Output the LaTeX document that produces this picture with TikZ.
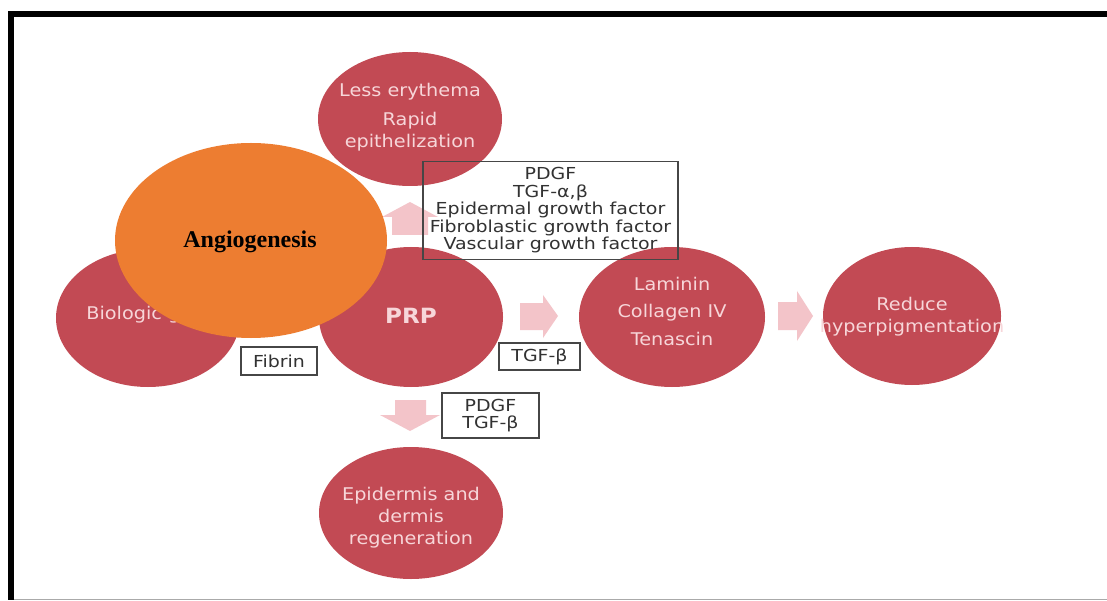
\documentclass[tikz,border=0pt]{standalone}
\usepackage{fontspec}
\usetikzlibrary{shapes.geometric}
\newfontfamily\circfont[FakeStretch=1.1]{DejaVu Sans}
\newfontfamily\boxfont[FakeStretch=1.15]{DejaVu Sans}
\newfontfamily\angfont{Liberation Serif}
\definecolor{circred}{RGB}{194,74,84}
\definecolor{circtext}{RGB}{247,214,217}
\definecolor{arrowpink}{RGB}{243,196,201}
\definecolor{angorange}{RGB}{237,125,49}
\definecolor{boxtext}{RGB}{50,50,50}
\definecolor{boxline}{RGB}{70,70,70}
\definecolor{bottomgray}{RGB}{170,170,170}
\begin{document}
\begin{tikzpicture}[x=1pt,y=-1pt,
  redcirc/.style={ellipse, fill=circred, draw=none, inner sep=0pt},
  circlabel/.style={align=center, text=circtext, inner sep=0pt, font=\circfont\fontsize{17.5}{22}\selectfont},
  labelbox/.style={draw=boxline, line width=1.3pt, inner sep=0pt, align=center, text=boxtext, font=\boxfont\fontsize{16.5}{17.5}\selectfont},
  blockarrow/.style={fill=arrowpink, draw=none}]
\useasboundingbox (0,0) rectangle (1107,601);
\fill[white] (0,0) rectangle (1107,601);
% frame
\fill[black] (8,11) rectangle (1107,17);
\fill[black] (8,11) rectangle (14,600);
\draw[bottomgray, line width=1.2pt] (14,599.4) -- (1107,599.4);
% red circles
\node[redcirc, minimum width=184pt, minimum height=134pt] (top) at (410,119) {};
\node[redcirc, minimum width=184pt, minimum height=138pt] (bio) at (148,318) {};
\node[redcirc, minimum width=184pt, minimum height=140pt] (prp) at (411,317) {};
\node[redcirc, minimum width=186pt, minimum height=140pt] (lam) at (672,317) {};
\node[redcirc, minimum width=178pt, minimum height=138pt] (red) at (912,316) {};
\node[redcirc, minimum width=184pt, minimum height=132pt] (epi) at (411,513) {};
% circle texts
\node[circlabel] (topt) at (410,117.5) {Less erythema\\[7pt]Rapid\\epithelization};
\node[circlabel] (biot) at (148,315) {Biologic glue};
\node[circlabel, font=\circfont\bfseries\fontsize{21}{24}\selectfont] (prpt) at (411,316) {PRP};
\node[circlabel] (lamt) at (672,311) {Laminin\\[5.5pt]Collagen IV\\[5.5pt]Tenascin};
\node[circlabel] (redt) at (912,317) {Reduce\\hyperpigmentation};
\node[circlabel] (epit) at (411,517.5) {Epidermis and\\dermis\\regeneration};
% block arrows
\fill[blockarrow] (410,202) -- (438,217) -- (428,217) -- (428,235) -- (392,235) -- (392,217) -- (382,217) -- cycle;
\fill[blockarrow] (520,303) -- (543,303) -- (543,295) -- (558,316) -- (543,338) -- (543,330) -- (520,330) -- cycle;
\fill[blockarrow] (778,302) -- (797,302) -- (797,291) -- (813,316) -- (797,341) -- (797,330) -- (778,330) -- cycle;
\fill[blockarrow] (395,400) -- (426,400) -- (426,415) -- (440,415) -- (410,431) -- (380,415) -- (395,415) -- cycle;
% label boxes
\node[labelbox, minimum width=255pt, minimum height=98pt] (gf) at (550.5,210.5) {PDGF\\TGF-α,β\\Epidermal growth factor\\Fibroblastic growth factor\\Vascular growth factor};
\node[labelbox, minimum width=76pt, minimum height=28pt] (fib) at (279,361) {Fibrin};
\node[labelbox, minimum width=81pt, minimum height=27pt] (tgf) at (539.5,356.5) {TGF-β};
\node[labelbox, minimum width=97pt, minimum height=45pt] (pdgf) at (490.5,415.5) {PDGF\\TGF-β};
% orange ellipse
\node[ellipse, fill=angorange, draw=none, inner sep=0pt, minimum width=272pt, minimum height=195pt] (ang) at (251,240.5) {};
\node[inner sep=0pt, font=\angfont\bfseries\fontsize{24}{26}\selectfont] (angt) at (250,242) {Angiogenesis};
\end{tikzpicture}
\end{document}
